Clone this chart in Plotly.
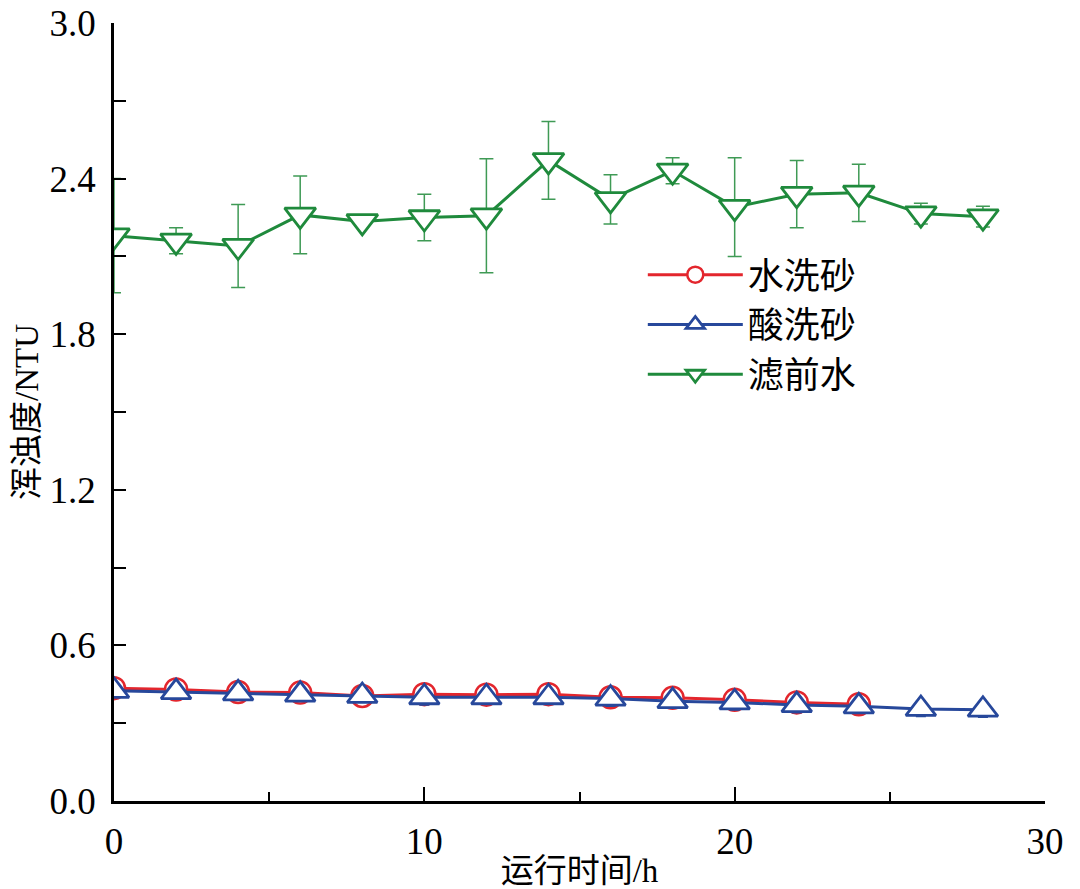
import plotly.graph_objects as go

# ---- data ----
x_green = [0, 2, 4, 6, 8, 10, 12, 14, 16, 18, 20, 22, 24, 26, 28]
y_green = [2.18, 2.16, 2.14, 2.26, 2.235, 2.25, 2.257, 2.47, 2.32, 2.43, 2.29, 2.34, 2.345, 2.265, 2.253]
e_green = [0.22, 0.05, 0.16, 0.15, 0.02, 0.09, 0.22, 0.15, 0.095, 0.05, 0.19, 0.13, 0.11, 0.04, 0.04]

x_red = [0, 2, 4, 6, 8, 10, 12, 14, 16, 18, 20, 22, 24]
y_red = [0.435, 0.43, 0.42, 0.418, 0.405, 0.412, 0.41, 0.412, 0.40, 0.398, 0.39, 0.38, 0.373]
e_red = [0.02, 0.02, 0.02, 0.02, 0.025, 0.02, 0.02, 0.02, 0.02, 0.02, 0.02, 0.025, 0.02]

x_blue = [0, 2, 4, 6, 8, 10, 12, 14, 16, 18, 20, 22, 24, 26, 28]
y_blue = [0.425, 0.42, 0.415, 0.41, 0.405, 0.40, 0.40, 0.40, 0.395, 0.385, 0.38, 0.37, 0.365, 0.355, 0.352]
e_blue = [0.02, 0.02, 0.02, 0.025, 0.02, 0.03, 0.025, 0.02, 0.03, 0.02, 0.03, 0.03, 0.025, 0.03, 0.03]

names = ["水洗砂", "酸洗砂", "滤前水"]
x_ticks = [0, 10, 20, 30]
y_ticks = [0.0, 0.6, 1.2, 1.8, 2.4, 3.0]

RED = "#e3262d"
BLUE = "#27489b"
GREEN = "#1f8a3c"
FONT = "Liberation Serif, Noto Sans CJK SC, serif"

fig = go.Figure()

fig.add_trace(go.Scatter(
    x=x_red, y=y_red, name=names[0], mode="lines+markers",
    line=dict(color=RED, width=3),
    marker=dict(symbol="circle", size=22, color="white", line=dict(color=RED, width=2.5)),
    error_y=dict(type="data", array=e_red, color=RED, thickness=1.2, width=5),
))
fig.add_trace(go.Scatter(
    x=x_blue, y=y_blue, name=names[1], mode="lines+markers",
    line=dict(color=BLUE, width=3),
    marker=dict(symbol="triangle-up", size=26, color="white", line=dict(color=BLUE, width=2.8)),
    error_y=dict(type="data", array=e_blue, color=BLUE, thickness=1.2, width=5),
))
fig.add_trace(go.Scatter(
    x=x_green, y=y_green, name=names[2], mode="lines+markers",
    line=dict(color=GREEN, width=3),
    marker=dict(symbol="triangle-down", size=27, color="white", line=dict(color=GREEN, width=2.8)),
    error_y=dict(type="data", array=e_green, color="#3f9a55", thickness=1.5, width=7),
))

fig.update_layout(
    width=1080, height=889,
    margin=dict(l=114, r=35, t=23, b=88),
    plot_bgcolor="white", paper_bgcolor="white",
    font=dict(family=FONT, size=36, color="black"),
    showlegend=True,
    legend=dict(
        x=0.568, y=0.715, xanchor="left", yanchor="top",
        bgcolor="rgba(0,0,0,0)", font=dict(size=36, family=FONT),
        itemwidth=95, tracegroupgap=0,
    ),
    xaxis=dict(
        range=[0, 30], tickvals=x_ticks, ticktext=[str(v) for v in x_ticks],
        showgrid=False, zeroline=False, showline=True, linecolor="black", linewidth=2.5,
        ticks="inside", ticklen=14, tickwidth=2, tickcolor="black",
        minor=dict(dtick=5, ticks="inside", ticklen=9, tickwidth=2, tickcolor="black"),
        ticklabelstandoff=6, automargin=False, ticklabeloverflow="allow",
        title=dict(text="运行时间/h", font=dict(size=33, family=FONT), standoff=0),
        tickfont=dict(size=37, family=FONT),
    ),
    yaxis=dict(
        range=[0, 3.0], tickvals=y_ticks, ticktext=[f"{v:.1f}" for v in y_ticks],
        showgrid=False, zeroline=False, showline=True, linecolor="black", linewidth=2.5,
        ticks="inside", ticklen=12, tickwidth=2, tickcolor="black",
        minor=dict(dtick=0.3, ticks="inside", ticklen=12, tickwidth=2, tickcolor="black"),
        ticklabelstandoff=8, automargin=False, ticklabeloverflow="allow",
        title=dict(text="浑浊度/NTU", font=dict(size=33, family=FONT), standoff=2),
        tickfont=dict(size=37, family=FONT),
    ),
)

fig.write_html("out.html")
